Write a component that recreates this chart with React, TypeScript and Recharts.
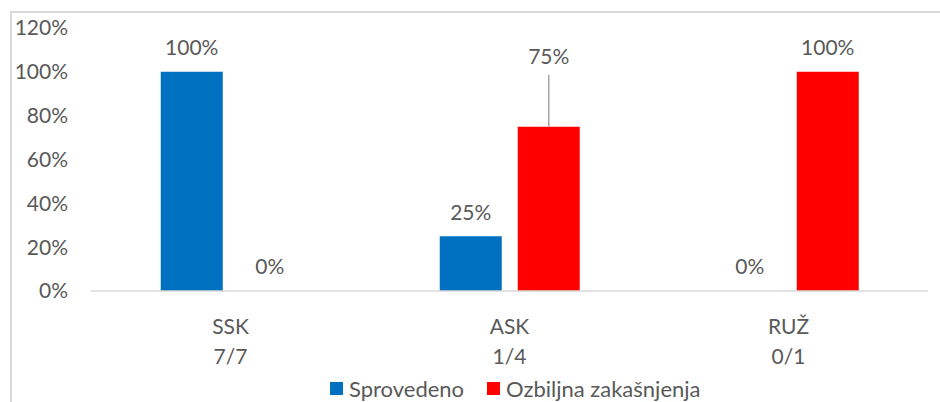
import { BarChart, Bar, XAxis, YAxis, Legend, LabelList } from 'recharts';

const categories = ['SSK', 'ASK', 'RUŽ'];
const ratios = ['7/7', '1/4', '0/1'];
const sprovedeno = [100, 25, 0];
const zakasnjenja = [0, 75, 100];
const yTicks = [0, 20, 40, 60, 80, 100, 120];

const seriesNames = ['Sprovedeno', 'Ozbiljna zakašnjenja'];
const seriesColors = ['#0070C0', '#FF0000'];

const FONT = 'Lato, "Open Sans", sans-serif';
const TEXT = '#595959';
const FS = 21;

const data = categories.map((c, i) => ({
  name: c,
  ratio: ratios[i],
  sprovedeno: sprovedeno[i],
  zakasnjenja: zakasnjenja[i],
}));

// label dragged up by hand in the original, with a leader line
const liftedLabels: Record<string, number> = { 'zakasnjenja-ASK': 71 };

function makeLabel(key: string) {
  return (props: any) => {
    const { x, y, width, value, index } = props;
    const cx = Number(x) + Number(width) / 2;
    const lift = liftedLabels[`${key}-${categories[index]}`];
    if (lift) {
      const ly = Number(y) - lift;
      return (
        <g>
          <line x1={cx} x2={cx} y1={ly + 19} y2={Number(y)} stroke="#a6a6a6" strokeWidth={1.5} />
          <text x={cx} y={ly} textAnchor="middle" dominantBaseline="central" fill={TEXT} fontSize={FS} fontFamily={FONT}>
            {value}%
          </text>
        </g>
      );
    }
    return (
      <text x={cx} y={Number(y) - 25} textAnchor="middle" dominantBaseline="central" fill={TEXT} fontSize={FS} fontFamily={FONT}>
        {value}%
      </text>
    );
  };
}

function CategoryTick(props: any) {
  const { x, y, payload, index } = props;
  return (
    <g>
      <text x={x} y={y + 34} textAnchor="middle" dominantBaseline="central" fill={TEXT} fontSize={FS} fontFamily={FONT}>
        {payload.value}
      </text>
      <text x={x} y={y + 64} textAnchor="middle" dominantBaseline="central" fill={TEXT} fontSize={FS} fontFamily={FONT}>
        {ratios[index]}
      </text>
    </g>
  );
}

function LegendContent() {
  return (
    <div style={{ display: 'flex', alignItems: 'center', height: 28, paddingLeft: 330, fontFamily: FONT, fontSize: 22, color: TEXT }}>
      {seriesNames.map((n, i) => (
        <div key={n} style={{ display: 'flex', alignItems: 'center', marginRight: 23 }}>
          <span style={{ width: 13, height: 13, background: seriesColors[i], display: 'inline-block', marginRight: 6 }} />
          <span>{n}</span>
        </div>
      ))}
    </div>
  );
}

export default function App() {
  return (
    <div style={{ position: 'fixed', left: 0, top: 0, width: 940, height: 402, background: '#fff' }}>
      <div
        style={{
          position: 'absolute',
          left: 10,
          top: 11,
          width: 930,
          height: 391,
          boxSizing: 'border-box',
          borderLeft: '2px solid #d9d9d9',
          borderTop: '2px solid #d9d9d9',
        }}
      />
      <BarChart
        width={940}
        height={402}
        data={data}
        margin={{ top: 28, right: 12, left: 0, bottom: 0 }}
        barCategoryGap="25%"
        barGap={16}
      >
        <XAxis
          dataKey="name"
          axisLine={{ stroke: '#d9d9d9', strokeWidth: 1.5 }}
          tickLine={false}
          tickSize={0}
          tickMargin={0}
          height={83}
          tick={<CategoryTick />}
          interval={0}
        />
        <YAxis
          width={91}
          domain={[0, 120]}
          ticks={yTicks}
          axisLine={false}
          tickLine={false}
          tickSize={0}
          tickMargin={23}
          tickFormatter={(v) => `${v}%`}
          tick={{ fill: TEXT, fontSize: FS, fontFamily: FONT }}
        />
        <Legend verticalAlign="bottom" content={<LegendContent />} />
        <Bar dataKey="sprovedeno" name={seriesNames[0]} fill={seriesColors[0]} minPointSize={0.01} isAnimationActive={false}>
          <LabelList dataKey="sprovedeno" content={makeLabel('sprovedeno')} />
        </Bar>
        <Bar dataKey="zakasnjenja" name={seriesNames[1]} fill={seriesColors[1]} minPointSize={0.01} isAnimationActive={false}>
          <LabelList dataKey="zakasnjenja" content={makeLabel('zakasnjenja')} />
        </Bar>
      </BarChart>
    </div>
  );
}
